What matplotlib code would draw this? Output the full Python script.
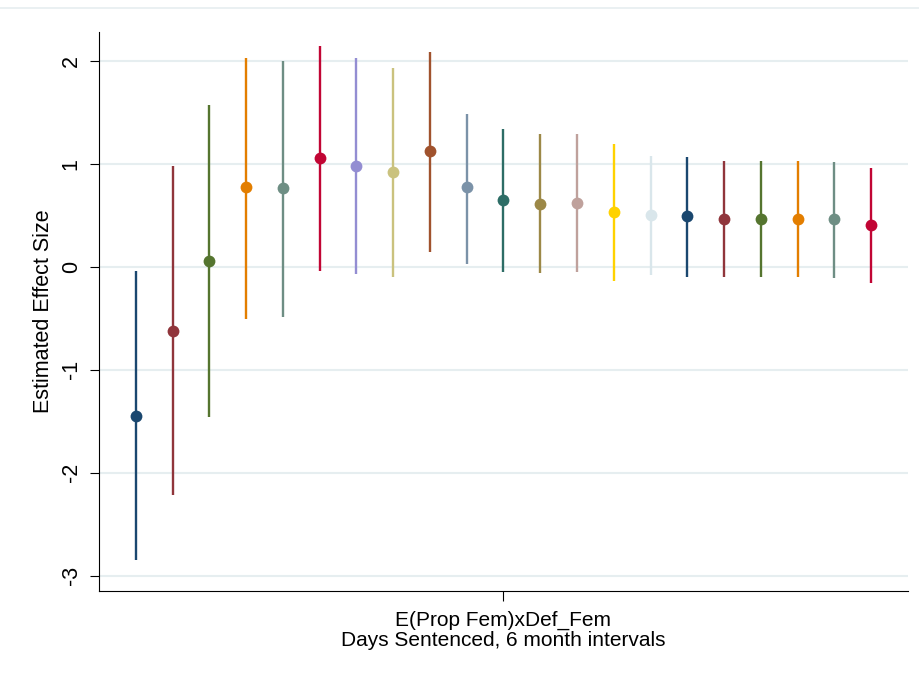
import matplotlib.pyplot as plt
from matplotlib.lines import Line2D

plt.rcParams['font.family'] = ['Liberation Sans', 'DejaVu Sans']

# Coefficient estimates and 95% CI, one per 6-month interval
estimates = [-1.45, -0.62, 0.06, 0.77, 0.76, 1.06, 0.98, 0.92, 1.12, 0.77, 0.65,
             0.61, 0.62, 0.53, 0.50, 0.49, 0.46, 0.46, 0.46, 0.46, 0.41]
ci_low = [-2.85, -2.22, -1.46, -0.51, -0.49, -0.04, -0.07, -0.10, 0.14, 0.03, -0.05,
          -0.06, -0.05, -0.14, -0.08, -0.10, -0.10, -0.10, -0.10, -0.11, -0.16]
ci_high = [-0.04, 0.98, 1.57, 2.03, 2.00, 2.14, 2.03, 1.93, 2.09, 1.48, 1.34,
           1.29, 1.29, 1.19, 1.08, 1.07, 1.03, 1.03, 1.03, 1.02, 0.96]

# Stata s2color palette
palette = ['#1a476f', '#90353b', '#55752f', '#e37e00', '#6e8e84', '#c10534',
           '#938dd2', '#cac27e', '#a0522d', '#7b92a8', '#2d6d66', '#9c8847',
           '#bfa19c', '#ffd200', '#d9e6eb']
colors = [palette[i % len(palette)] for i in range(len(estimates))]

yticks = [-3, -2, -1, 0, 1, 2]
xtick_label = 'E(Prop Fem)xDef_Fem'

fig = plt.figure(figsize=(9.2, 6.75), dpi=100)
ax = fig.add_axes([99 / 920, 1 - 591 / 675, (908 - 99) / 920, (591 - 32) / 675])

for i, (est, lo, hi, c) in enumerate(zip(estimates, ci_low, ci_high, colors)):
    xpos = i + 1
    ax.plot([xpos, xpos], [lo, hi], color=c, lw=1.7, solid_capstyle='butt', zorder=2)
    ax.plot(xpos, est, 'o', color=c, markersize=8.5, markeredgewidth=0, zorder=3)

ax.set_xlim(0, 22)
ax.set_ylim(-3.15, 2.28)
ax.set_yticks(yticks)
ax.set_yticklabels([str(t) for t in yticks], rotation=90, va='center', fontsize=15.5)
ax.set_xticks([11])
ax.set_xticklabels([xtick_label], fontsize=15)
ax.tick_params(axis='x', length=7, width=0.8, pad=7)
ax.tick_params(axis='y', length=6.5, width=0.8, pad=6)
ax.grid(axis='y', color='#e6eef0', lw=1.5, zorder=0)
ax.set_axisbelow(True)
ax.set_ylabel('Estimated Effect Size', fontsize=15.5, labelpad=5)
ax.set_xlabel('Days Sentenced, 6 month intervals', fontsize=15, labelpad=1)

for side in ['top', 'right']:
    ax.spines[side].set_visible(False)
ax.spines['left'].set_linewidth(0.8)
ax.spines['bottom'].set_linewidth(0.8)

# faint outer frame line at the top of the graph region
fig.add_artist(Line2D([0.0, 1.0], [1 - 8 / 675, 1 - 8 / 675], color='#e6eef0', lw=1.2))

fig.savefig('out.png', dpi=100)
